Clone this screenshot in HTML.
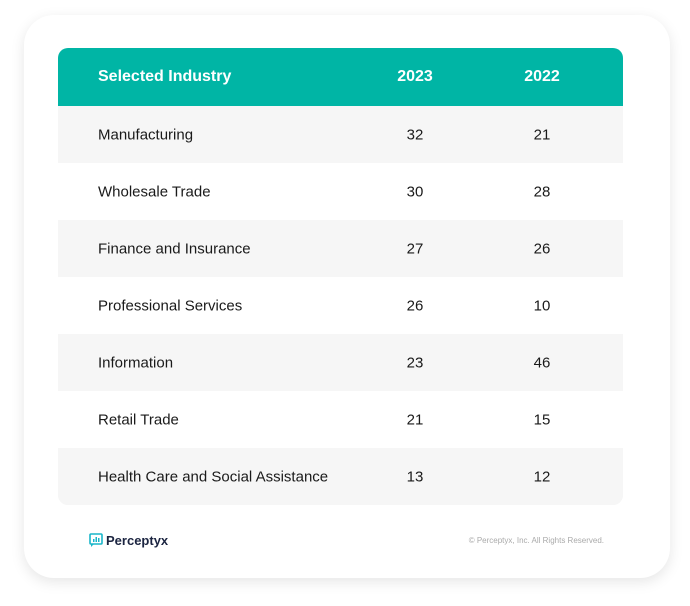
<!DOCTYPE html>
<html><head><meta charset="utf-8"><style>
body{margin:0;width:690px;height:606px;background:#fff;font-family:"Liberation Sans",sans-serif;position:relative;overflow:hidden}
.card{position:absolute;left:24px;top:15px;width:646px;height:563px;border-radius:30px;background:#fff;box-shadow:0 4px 14px rgba(0,0,0,0.10)}
.tbl{position:absolute;left:58px;top:48px;width:565px;border-radius:10px;overflow:hidden;background:#f6f6f6}
.row{position:relative;height:57px;font-size:15px;color:#1a1a1a}
.row span{position:absolute;top:50%;transform:translateY(-50%)}
.c1{left:40px}.c2{left:357px;width:0;text-align:center}.c3{left:484px;width:0;text-align:center}
.c2 b,.c3 b{font-weight:inherit}
.hdr{background:#00b5a5;color:#fff;font-weight:bold;font-size:16px;height:58px}
.w{background:#fff}.g{background:#f6f6f6}
.ctr{display:inline-block;transform:translateX(-50%);white-space:nowrap}
</style></head><body>
<div class="card"></div>
<div class="tbl">
<div class="row hdr"><span class="c1">Selected Industry</span><span class="c2"><i class="ctr" style="font-style:normal">2023</i></span><span class="c3"><i class="ctr" style="font-style:normal">2022</i></span></div>
<div id="body"></div>
</div>
<div style="position:absolute;left:89px;top:533px;display:flex;align-items:center;gap:3px;font-weight:bold;font-size:13px;color:#1b2440">
<svg width="14" height="15" viewBox="0 0 14 15"><rect x="1" y="1" width="12" height="10" rx="1" fill="none" stroke="#19b6c9" stroke-width="1.6"/><path d="M2 11 L2 14 L5 11" fill="#19b6c9"/><rect x="4" y="6" width="1.5" height="3" fill="#19b6c9"/><rect x="6.5" y="4" width="1.5" height="5" fill="#19b6c9"/><rect x="9" y="5" width="1.5" height="4" fill="#19b6c9"/></svg>Perceptyx</div>
<div style="position:absolute;right:86px;top:536px;font-size:8px;color:#aaa">© Perceptyx, Inc. All Rights Reserved.</div>
<script>
const industries=["Manufacturing","Wholesale Trade","Finance and Insurance","Professional Services","Information","Retail Trade","Health Care and Social Assistance"];
const values2023=[32,30,27,26,23,21,13];
const values2022=[21,28,26,10,46,15,12];
const body=document.getElementById('body');
industries.forEach((n,i)=>{
 const r=document.createElement('div');
 r.className='row '+(i%2?'w':'g');
 
 
 r.innerHTML='<span class="c1">'+n+'</span><span class="c2"><i class="ctr" style="font-style:normal">'+values2023[i]+'</i></span><span class="c3"><i class="ctr" style="font-style:normal">'+values2022[i]+'</i></span>';
 body.appendChild(r);
});
</script>
</body></html>
